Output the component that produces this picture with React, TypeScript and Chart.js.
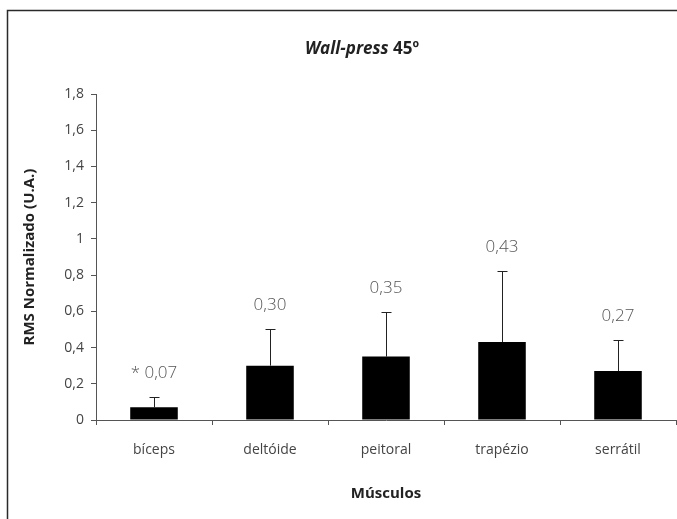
import React, { useEffect, useRef } from "react";
import { Chart, registerables } from "chart.js";

Chart.register(...registerables);

const categories = ["bíceps", "deltóide", "peitoral", "trapézio", "serrátil"];
const meanValues = [0.07, 0.3, 0.35, 0.43, 0.27];
const sdValues = [0.055, 0.2, 0.245, 0.39, 0.17];
const valueLabels = ["* 0,07", "0,30", "0,35", "0,43", "0,27"];
const titleItalic = "Wall-press";
const titleRest = " 45º";
const yTitle = "RMS Normalizado (U.A.)";
const xTitle = "Músculos";

const FONT = "'Open Sans', 'DejaVu Sans', sans-serif";

const framePlugin = {
  id: "frame",
  beforeDraw(chart: any) {
    const ctx = chart.ctx;
    ctx.save();
    ctx.fillStyle = "#ffffff";
    ctx.fillRect(0, 0, chart.width, chart.height);
    ctx.strokeStyle = "#2a2a2a";
    ctx.lineWidth = 1.5;
    ctx.beginPath();
    ctx.moveTo(7.5, chart.height + 2);
    ctx.lineTo(7.5, 10.5);
    ctx.lineTo(chart.width + 2, 10.5);
    ctx.stroke();
    ctx.restore();
  },
};

const titlePlugin = {
  id: "mixedTitle",
  afterDraw(chart: any) {
    const ctx = chart.ctx;
    ctx.save();
    const f1 = `italic bold 17px ${FONT}`;
    const f2 = `bold 17px ${FONT}`;
    ctx.font = f1;
    const w1 = ctx.measureText(titleItalic).width;
    ctx.font = f2;
    const w2 = ctx.measureText(titleRest).width;
    const cx = 362;
    const y = 49;
    const x0 = cx - (w1 + w2) / 2;
    ctx.fillStyle = "#222222";
    ctx.textBaseline = "middle";
    ctx.textAlign = "left";
    ctx.font = f1;
    ctx.fillText(titleItalic, x0, y);
    ctx.font = f2;
    ctx.fillText(titleRest, x0 + w1, y);
    ctx.restore();
  },
};

const errorBarPlugin = {
  id: "errorBars",
  afterDatasetsDraw(chart: any) {
    const ctx = chart.ctx;
    const meta = chart.getDatasetMeta(0);
    const yScale = chart.scales.y;
    ctx.save();
    meta.data.forEach((bar: any, i: number) => {
      const x = Math.round(bar.x) + 0.5;
      const yTop = yScale.getPixelForValue(meanValues[i] + sdValues[i]);
      const yBar = yScale.getPixelForValue(meanValues[i]);
      ctx.strokeStyle = "#222222";
      ctx.lineWidth = 1;
      ctx.beginPath();
      ctx.moveTo(x, yBar);
      ctx.lineTo(x, Math.round(yTop) + 0.5);
      ctx.moveTo(x - 5, Math.round(yTop) + 0.5);
      ctx.lineTo(x + 5, Math.round(yTop) + 0.5);
      ctx.stroke();
      ctx.fillStyle = "#555555";
      ctx.font = `300 17px ${FONT}`;
      ctx.textAlign = "center";
      ctx.textBaseline = "middle";
      ctx.fillText(valueLabels[i], bar.x, yTop - 24);
    });
    ctx.restore();
  },
};

function fmt(v: number) {
  const r = Math.round(v * 10) / 10;
  if (Math.abs(r - Math.round(r)) < 1e-9) return String(Math.round(r));
  return r.toFixed(1).replace(".", ",");
}

export default function App() {
  const ref = useRef<HTMLCanvasElement | null>(null);
  useEffect(() => {
    if (!ref.current) return;
    const chart = new Chart(ref.current, {
      type: "bar",
      data: {
        labels: categories,
        datasets: [
          {
            data: meanValues,
            backgroundColor: "#000000",
            borderWidth: 0,
            barPercentage: 0.41,
            categoryPercentage: 1,
          },
        ],
      },
      options: {
        animation: false,
        responsive: false,
        devicePixelRatio: 1,
        layout: { padding: { top: 94, right: 1, left: 0, bottom: 0 } },
        plugins: {
          legend: { display: false },
          title: { display: false },
          tooltip: { enabled: false },
        },
        scales: {
          x: {
            offset: true,
            afterFit: (s: any) => {
              s.height = 99;
            },
            grid: {
              display: true,
              drawOnChartArea: false,
              drawTicks: true,
              tickLength: 5,
              color: "#555555",
              offset: true,
            },
            border: { color: "#555555", width: 1 },
            ticks: {
              font: { family: FONT, size: 14 },
              color: "#444444",
              padding: 17,
              maxRotation: 0,
            },
            title: {
              display: true,
              text: xTitle,
              font: { family: FONT, size: 15, weight: "bold" },
              color: "#222222",
              padding: { top: 0, bottom: 16 },
            },
          },
          y: {
            min: 0,
            max: 1.8,
            afterFit: (s: any) => {
              s.width = 96;
            },
            grid: {
              display: true,
              drawOnChartArea: false,
              drawTicks: true,
              tickLength: 5,
              color: "#555555",
            },
            border: { color: "#555555", width: 1 },
            ticks: {
              stepSize: 0.2,
              font: { family: FONT, size: 14 },
              color: "#444444",
              padding: 7,
              callback: (v: any) => fmt(Number(v)),
            },
            title: {
              display: true,
              text: yTitle,
              font: { family: FONT, size: 15, weight: "bold" },
              color: "#222222",
              padding: { top: 21, bottom: 0 },
            },
          },
        },
      },
      plugins: [framePlugin, titlePlugin, errorBarPlugin],
    });
    return () => chart.destroy();
  }, []);
  return (
    <div style={{ position: "absolute", left: 0, top: 0, width: 677, height: 519 }}>
      <canvas ref={ref} width={677} height={519} style={{ display: "block" }} />
    </div>
  );
}
